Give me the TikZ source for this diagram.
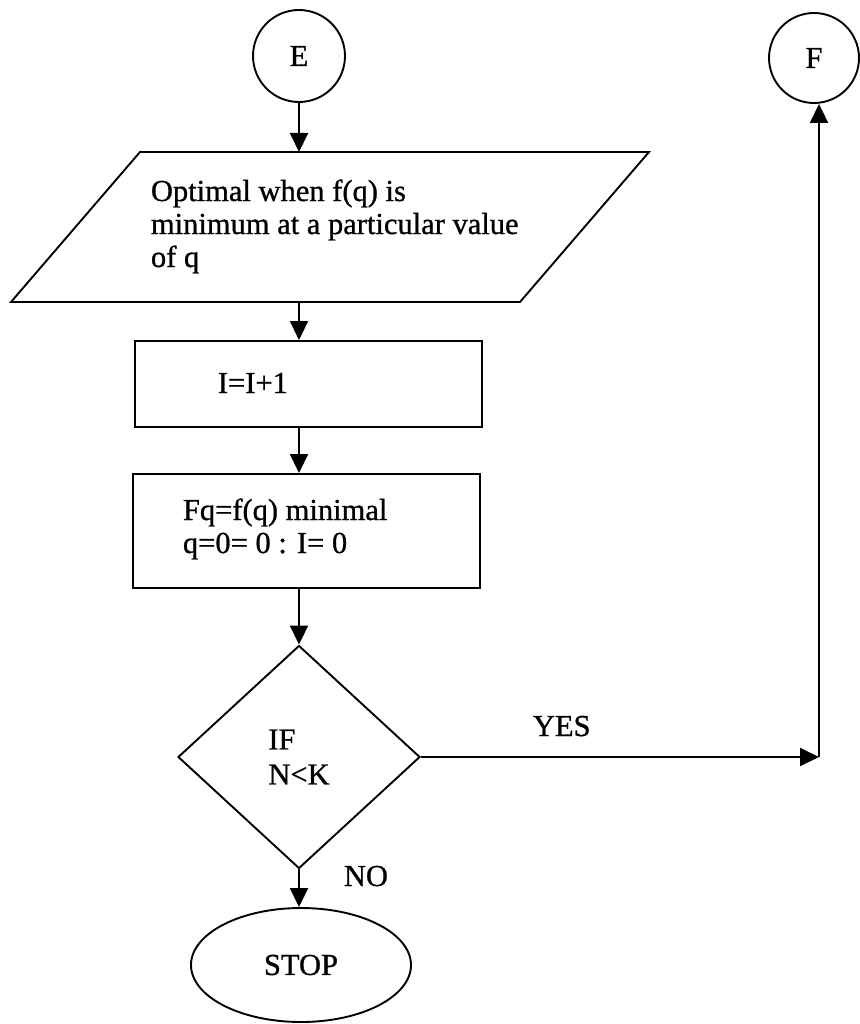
\documentclass[tikz,border=0pt]{standalone}
\usepackage{fontspec}
\setmainfont{Liberation Serif}[FakeBold=0.9]
\usetikzlibrary{arrows.meta,shapes.geometric}
\begin{document}
\begin{tikzpicture}[x=1pt,y=-1pt,
  line width=1.9pt,
  arr/.style={-{Triangle[length=19pt,width=18pt]}},
  txt/.style={font=\fontsize{30.5}{33}\selectfont, inner sep=0pt, align=left},
  conn/.style={draw, circle, minimum size=#1, inner sep=0pt, font=\fontsize{30.5}{33}\selectfont},
  procbox/.style={draw, rectangle, inner sep=0pt, minimum width=347pt, minimum height=#1}]
\useasboundingbox (0,0) rectangle (859,1024);

% connectors (circles)
\node[conn=92pt] (E) at (299,56) {E};
\node[conn=90pt] (F) at (814,58) {F};

% parallelogram (input/output)
\coordinate (pTL) at (140,152);
\coordinate (pTR) at (649,152);
\coordinate (pBR) at (520,302);
\coordinate (pBL) at (11,302);
\draw (pTL) -- (pTR) -- (pBR) -- (pBL) -- cycle;
\coordinate (parTop) at (299,152);
\coordinate (parBot) at (299,302);
\node[txt, anchor=base west] (partext) at (150,267)
  {Optimal when f(q) is\\minimum at a particular value\\of q};

% process boxes
\node[procbox=86pt] (r1) at (308.5,384) {};
\node[txt, anchor=base west] (r1text) at (217,393) {I=I+1};
\node[procbox=114pt] (r2) at (306.5,531) {};
\node[txt, anchor=base west] (r2text) at (182,553) {Fq=f(q) minimal\\q=0= 0 : I= 0};

% decision
\node[draw, diamond, inner sep=0pt, minimum width=242pt, minimum height=223pt,
      font=\fontsize{30.5}{33}\selectfont, align=left] (dia) at (299,757) {IF\\[2pt]N<K};

% terminal
\node[draw, ellipse, inner sep=0pt, minimum width=220pt, minimum height=114pt,
      font=\fontsize{30.5}{33}\selectfont] (stop) at (301,965) {STOP};

% arrows
\draw[arr] (E) -- (parTop);
\draw[arr] (parBot) -- (parBot |- r1.north);
\draw[arr] (r1.south -| E) -- (r2.north -| E);
\draw[arr] (r2.south -| dia.north) -- (dia.north);
\draw[arr] (dia.south) -- (dia.south |- stop.north);
\coordinate (corner) at (819,757);
\draw[arr] (dia.east) -- (corner);
\draw[arr] (corner) -- (corner |- F.south);

% labels
\node[txt, anchor=base west] (yes) at (532,736) {YES};
\node[txt, anchor=base west] (no) at (343,886) {NO};
\end{tikzpicture}
\end{document}
